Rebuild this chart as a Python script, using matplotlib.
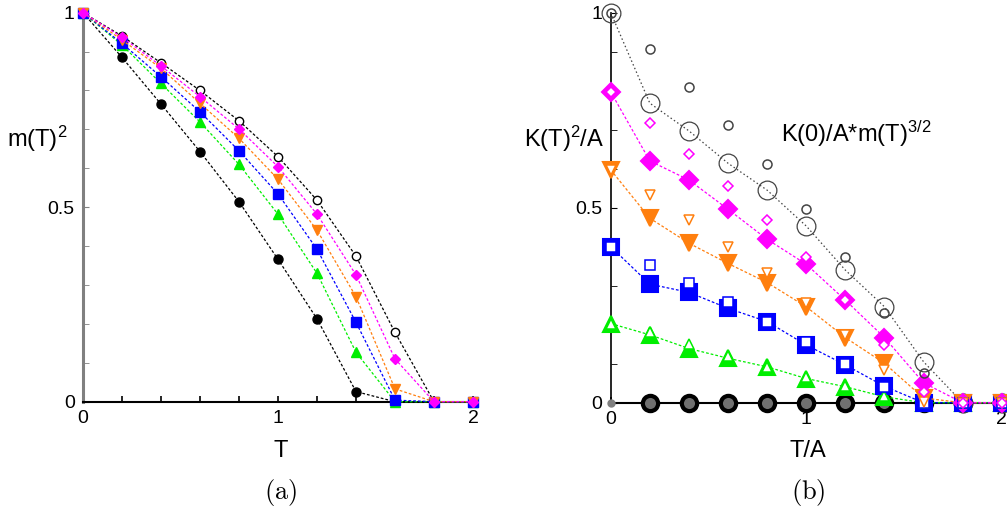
import matplotlib
matplotlib.use("Agg")
import matplotlib.pyplot as plt
from matplotlib.ticker import MultipleLocator

plt.rcParams['font.family'] = ['Liberation Sans', 'DejaVu Sans']
plt.rcParams['mathtext.fontset'] = 'custom'
plt.rcParams['mathtext.rm'] = 'Liberation Sans'
plt.rcParams['mathtext.default'] = 'regular'

# temperature grid (T, or T/A on the right panel)
T = [0.0, 0.2, 0.4, 0.6, 0.8, 1.0, 1.2, 1.4, 1.6, 1.8, 2.0]

# (a) m(T)^2 for the six cases
m2_black = [1, 0.885, 0.765, 0.643, 0.514, 0.366, 0.213, 0.026, 0, 0, 0]
m2_green = [1, 0.917, 0.818, 0.719, 0.610, 0.482, 0.330, 0.127, 0, 0, 0]
m2_blue = [1, 0.921, 0.835, 0.745, 0.645, 0.534, 0.392, 0.204, 0.004, 0, 0]
m2_orange = [1, 0.930, 0.857, 0.767, 0.677, 0.572, 0.441, 0.270, 0.033, 0, 0]
m2_magenta = [1, 0.937, 0.863, 0.784, 0.701, 0.604, 0.482, 0.326, 0.110, 0, 0]
m2_open = [1, 0.940, 0.871, 0.800, 0.722, 0.630, 0.518, 0.374, 0.178, 0, 0]

# (b) K(T)^2/A (big symbols) and K(0)/A*m(T)^(3/2) (small symbols)
K2_gray = [1.0, 0.768, 0.697, 0.614, 0.545, 0.453, 0.340, 0.246, 0.105, 0, 0]
Km_gray = [1.0, 0.906, 0.810, 0.712, 0.611, 0.498, 0.373, 0.231, 0.075, 0, 0]
K2_magenta = [0.797, 0.620, 0.571, 0.496, 0.419, 0.355, 0.263, 0.167, 0.051, 0, 0]
Km_magenta = [0.797, 0.718, 0.638, 0.556, 0.468, 0.374, 0.263, 0.148, 0.028, 0, 0]
K2_orange = [0.597, 0.473, 0.409, 0.357, 0.308, 0.246, 0.167, 0.101, 0.012, 0, 0]
Km_orange = [0.597, 0.532, 0.468, 0.400, 0.332, 0.256, 0.174, 0.084, 0.003, 0, 0]
K2_blue = [0.400, 0.304, 0.283, 0.242, 0.208, 0.148, 0.097, 0.042, 0, 0, 0]
Km_blue = [0.400, 0.353, 0.306, 0.257, 0.208, 0.155, 0.098, 0.040, 0, 0, 0]
K2_green = [0.203, 0.174, 0.139, 0.114, 0.092, 0.062, 0.041, 0.015, 0, 0, 0]
Km_green = [0.203, 0.182, 0.150, 0.120, 0.092, 0.067, 0.043, 0.017, 0, 0, 0]
K2_zero = [0, 0, 0, 0, 0, 0, 0, 0, 0, 0, 0]

GREEN = '#00ee00'
BLUE = '#0000ff'
ORANGE = '#ff7f0e'
MAGENTA = '#ff00ff'
GRAY = '#444444'

fig = plt.figure(figsize=(10.07, 5.11), dpi=100)
ax1 = fig.add_axes([0.0824, 0.2139, 0.3873, 0.7613])
ax2 = fig.add_axes([0.6065, 0.2119, 0.3883, 0.7632])

dash = (0, (2.2, 1.6))


def style_axes(ax, left_color):
    ax.set_xlim(0, 2)
    ax.set_ylim(0, 1)
    for s in ('top', 'right'):
        ax.spines[s].set_visible(False)
    ax.spines['bottom'].set_linewidth(1.5)
    ax.spines['left'].set_color(left_color)
    ax.xaxis.set_major_locator(MultipleLocator(1))
    ax.xaxis.set_minor_locator(MultipleLocator(0.2))
    ax.yaxis.set_major_locator(MultipleLocator(0.5))
    ax.yaxis.set_minor_locator(MultipleLocator(0.1))
    ax.set_xticks([0, 1, 2])
    ax.set_xticklabels(['0', '1', '2'])
    ax.set_yticks([0, 0.5, 1])
    ax.set_yticklabels(['0', '0.5', '1'])
    ax.tick_params(which='both', direction='in', labelsize=14, pad=6)
    ax.tick_params(which='both', length=4)
    ax.tick_params(axis='x', which='both', width=1.2)
    ax.tick_params(axis='y', which='both', color=left_color)


# ---- (a) ----
style_axes(ax1, '#808080')
ax1.spines['left'].set_linewidth(2.2)
ax1.plot(T, m2_open, ls=dash, lw=0.9, color='black', marker='o', ms=6,
         mfc='white', mec='black', mew=1.0, clip_on=False, zorder=3)
ax1.plot(T, m2_black, ls=dash, lw=0.9, color='black', marker='o', ms=6.5,
         clip_on=False, zorder=3)
ax1.plot(T, m2_green, ls=dash, lw=0.9, color=GREEN, marker='^', ms=7,
         clip_on=False, zorder=3)
ax1.plot(T, m2_blue, ls=dash, lw=0.9, color=BLUE, marker='s', ms=6.5,
         clip_on=False, zorder=3)
ax1.plot(T, m2_orange, ls=dash, lw=0.9, color=ORANGE, marker='v', ms=7,
         clip_on=False, zorder=3)
ax1.plot(T, m2_magenta, ls=dash, lw=0.9, color=MAGENTA, marker='D', ms=5,
         clip_on=False, zorder=3)

fig.text(37 / 1007, 1 - 147 / 511, r'$\mathregular{m(T)^2}$', fontsize=17,
         ha='center', va='baseline')
fig.text(281 / 1007, 1 - 457 / 511, 'T', fontsize=17, ha='center', va='baseline')
fig.text(281 / 1007, 1 - 492 / 511, r'$\mathrm{(a)}$', math_fontfamily='cm',
         fontsize=19, ha='center', va='center')

# ---- (b) ----
style_axes(ax2, 'black')
ax2.spines['left'].set_linewidth(1.2)

# zero row
ax2.plot(T[1:], K2_zero[1:], ls='none', marker='o', ms=11, mfc='#707070',
         mec='black', mew=3, clip_on=False, zorder=3)
ax2.plot(T[0], K2_zero[0], ls='none', marker='o', ms=5, mfc='#808080',
         mec='#808080', clip_on=False, zorder=3)

big = [
    (K2_gray, Km_gray, GRAY, 'o', 13.5, (0, (1.2, 2.0))),
    (K2_green, Km_green, GREEN, '^', 12, dash),
    (K2_blue, Km_blue, BLUE, 's', 11.5, dash),
    (K2_orange, Km_orange, ORANGE, 'v', 12, dash),
    (K2_magenta, Km_magenta, MAGENTA, 'D', 9.5, dash),
]
for big_y, small_y, col, mk, size, ls in big:
    face = 'none' if mk == 'o' else col
    ax2.plot(T, big_y, ls=ls, lw=0.9, color=col, marker=mk, ms=size,
             mfc=face, mec=col, mew=0.9 if mk == 'o' else 1.5,
             clip_on=False, zorder=3)
for big_y, small_y, col, mk, size, ls in big:
    face = 'none' if mk == 'o' else 'white'
    ax2.plot(T, small_y, ls='none', marker=mk, ms=6.5 if mk != 'D' else 5,
             mfc=face, mec=col, mew=1.1, clip_on=False, zorder=4)

fig.text(564 / 1007, 1 - 147 / 511, r'$\mathregular{K(T)^2/A}$', fontsize=17,
         ha='center', va='baseline')
fig.text(856 / 1007, 1 - 142 / 511, r'$\mathregular{K(0)/A{*}m(T)^{3/2}}$',
         fontsize=17, ha='center', va='baseline')
fig.text(808 / 1007, 1 - 457 / 511, 'T/A', fontsize=17, ha='center', va='baseline')
fig.text(808 / 1007, 1 - 492 / 511, r'$\mathrm{(b)}$', math_fontfamily='cm',
         fontsize=19, ha='center', va='center')

fig.savefig('out.png', dpi=100)
